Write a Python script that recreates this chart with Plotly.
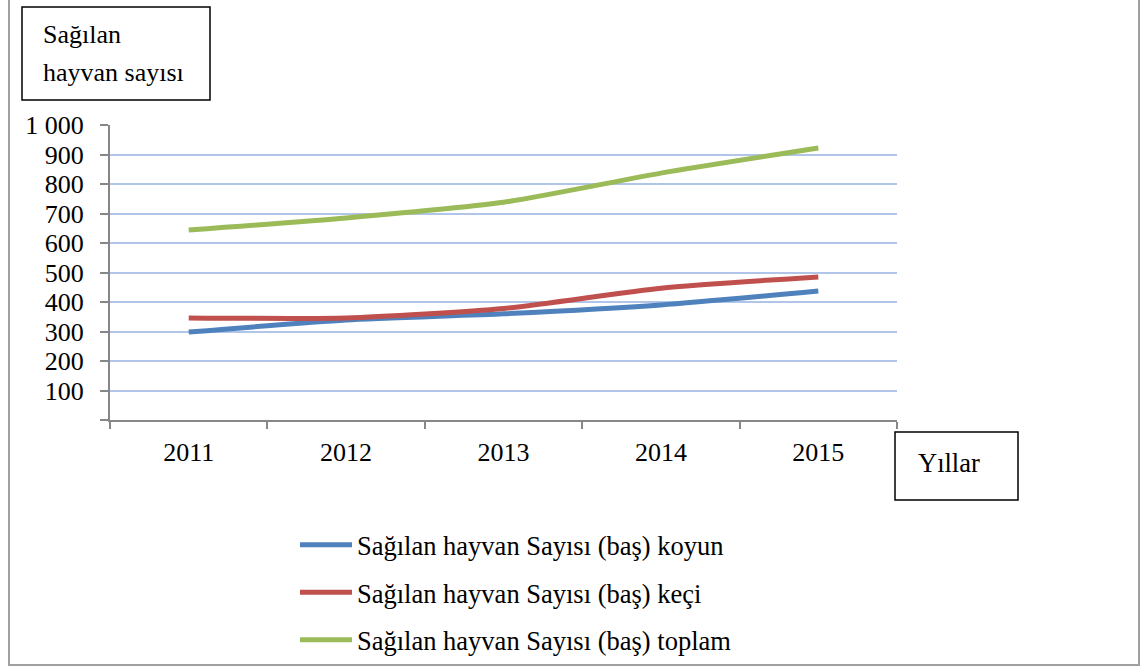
import plotly.graph_objects as go

years = ["2011", "2012", "2013", "2014", "2015"]
koyun = [298, 339, 360, 390, 437]
keci = [346, 346, 378, 447, 485]
toplam = [644, 685, 738, 837, 922]

series_names = [
    "Sağılan hayvan Sayısı (baş) koyun",
    "Sağılan hayvan Sayısı (baş) keçi",
    "Sağılan hayvan Sayısı (baş) toplam",
]
colors = ["#4f81bd", "#c0504d", "#9bbb59"]

y_ticks = [0, 100, 200, 300, 400, 500, 600, 700, 800, 900, 1000]
y_ticktext = ["", "100", "200", "300", "400", "500", "600", "700", "800", "900", "1 000"]

W, H = 1141, 667
L, R, T, B = 110, 897, 125, 420


# pixel -> paper coordinates
def px(x):
    return (x - L) / (R - L)


def py(y):
    return (B - y) / (B - T)


FONT = "Liberation Serif"
FS = 26

fig = go.Figure()

for i, vals in enumerate([koyun, keci, toplam]):
    fig.add_trace(go.Scatter(
        x=years,
        y=vals,
        mode="lines",
        name=series_names[i],
        legendgroup=str(i),
        line=dict(color=colors[i], width=5, shape="spline", smoothing=0.6),
    ))

fig.update_layout(
    width=W,
    height=H,
    margin=dict(l=L, r=W - R, t=T, b=H - B, autoexpand=False),
    paper_bgcolor="white",
    plot_bgcolor="white",
    font=dict(family=FONT, size=FS, color="black"),
    showlegend=True,
    legend=dict(
        x=px(295), y=py(521), xanchor="left", yanchor="top",
        tracegroupgap=10,
        itemwidth=52,
        font=dict(family=FONT, size=26.5, color="black"),
        bgcolor="rgba(0,0,0,0)",
    ),
    xaxis=dict(
        type="category",
        range=[-0.5, 4.5],
        showline=True, linecolor="#878787", linewidth=2,
        ticks="outside", ticklen=7, tickcolor="#878787", tickwidth=2,
        tickson="boundaries",
        showgrid=False,
        ticklabelstandoff=8,
        tickfont=dict(family=FONT, size=FS),
    ),
    yaxis=dict(
        range=[0, 1000],
        tickvals=y_ticks,
        ticktext=y_ticktext,
        showline=True, linecolor="#878787", linewidth=2,
        ticks="outside", ticklen=8, tickcolor="#878787", tickwidth=2,
        showgrid=True, gridcolor="#b0c5e8", gridwidth=2,
        zeroline=False,
        ticklabelstandoff=11,
        tickfont=dict(family=FONT, size=FS),
    ),
)

# outer frame
fig.add_shape(type="rect", xref="paper", yref="paper",
              x0=px(9), x1=px(1139), y0=py(665), y1=py(-5),
              line=dict(color="#a0a0a0", width=2), layer="below")

# axis title boxes
fig.add_shape(type="rect", xref="paper", yref="paper",
              x0=px(22), x1=px(210), y0=py(100), y1=py(7),
              line=dict(color="black", width=1.5))
fig.add_shape(type="rect", xref="paper", yref="paper",
              x0=px(895), x1=px(1018), y0=py(500), y1=py(432),
              line=dict(color="black", width=1.5))

fig.add_annotation(text="Sağılan", xref="paper", yref="paper",
                   x=px(41), y=py(35), xanchor="left", yanchor="middle",
                   showarrow=False, font=dict(family=FONT, size=FS))
fig.add_annotation(text="hayvan sayısı", xref="paper", yref="paper",
                   x=px(41), y=py(73), xanchor="left", yanchor="middle",
                   showarrow=False, font=dict(family=FONT, size=FS))
fig.add_annotation(text="Yıllar", xref="paper", yref="paper",
                   x=px(949), y=py(463), xanchor="center", yanchor="middle",
                   showarrow=False, font=dict(family=FONT, size=26.5))

fig.write_html("out.html", config={"displayModeBar": False},
               post_script="document.body.style.margin='0';")
